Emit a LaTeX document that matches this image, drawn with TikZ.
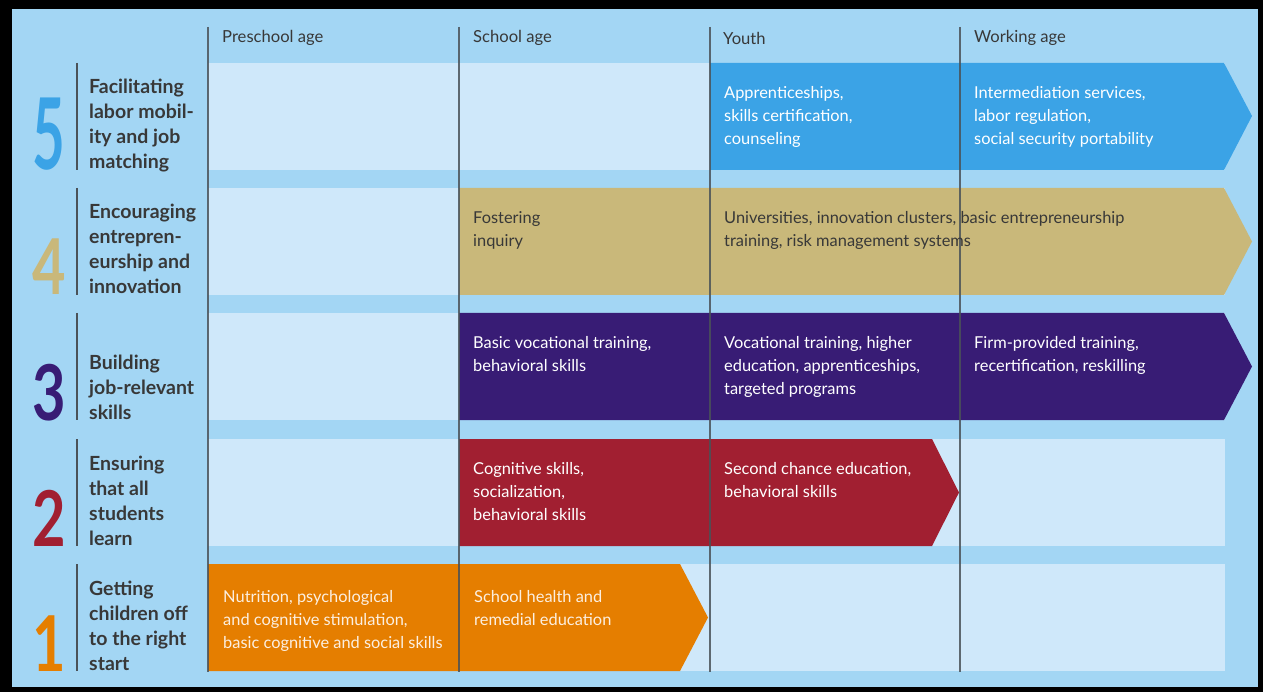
\documentclass[tikz,border=0pt]{standalone}
\usepackage{fontspec}
\setmainfont{Lato}
\usetikzlibrary{positioning}

\definecolor{bgblue}{HTML}{A3D6F4}
\definecolor{paleblue}{HTML}{CFE8FA}
\definecolor{lineg}{HTML}{4A5258}
\definecolor{labelg}{HTML}{383838}
\definecolor{c5}{HTML}{3BA3E6}
\definecolor{c4}{HTML}{C9B87A}
\definecolor{c3}{HTML}{381C75}
\definecolor{c2}{HTML}{A11F31}
\definecolor{c1}{HTML}{E57E00}

\begin{document}
\begin{tikzpicture}[x=1pt, y=-1pt,
    cell/.style={fill=paleblue},
    colline/.style={draw=lineg, line width=1.6pt, opacity=0.85},
    rowline/.style={draw=lineg, line width=1.4pt},
    header/.style={anchor=west, inner sep=0, text=labelg, font=\fontsize{16.6}{20}\selectfont},
    rowlabel/.style={anchor=base west, inner sep=0, align=left, text=labelg, font=\fontsize{19.5}{25}\selectfont\bfseries},
    rownum/.style={anchor=base, inner sep=0, font=\fontsize{77}{77}\selectfont\bfseries},
    boxtext/.style={anchor=north west, inner sep=0, align=left, text=white, font=\fontsize{16.4}{23}\selectfont}
]

% Frame and background
\fill[black] (0,0) rectangle (1263,692);
\fill[bgblue] (12,9) rectangle (1258,687);

% Empty cells
\foreach \t in {63,188,313,439,564}
  \fill[cell] (208,\t) rectangle (1225,\t+107);

% Arrows
\fill[c5] (710,63) -- (1224,63) -- (1252,116) -- (1224,170) -- (710,170) -- cycle;
\fill[c4] (459,188) -- (1224,188) -- (1252,241.5) -- (1224,295) -- (459,295) -- cycle;
\fill[c3] (459,313) -- (1224,313) -- (1252,366.5) -- (1224,420) -- (459,420) -- cycle;
\fill[c2] (459,439) -- (932,439) -- (959,492.5) -- (932,546) -- (459,546) -- cycle;
\fill[c1] (208,564) -- (680,564) -- (708,617.5) -- (680,671) -- (208,671) -- cycle;

% Column lines
\foreach \x in {208,459,710,960}
  \draw[colline] (\x,27) -- (\x,672);

% Headers
\node[header] (hpre) at (222,38) {Preschool age};
\node[header] (hschool) at (473,38) {School age};
\node[header] (hyouth) at (723,38) {Youth};
\node[header] (hwork) at (974,38) {Working age};

% Row labels
\foreach \t in {63,188,313,439,564}
  \draw[rowline] (77,\t) -- (77,\t+107);

\node[rownum, text=c5] (num5) at (49,170) {\scalebox{0.57}[1]{\fontsize{99}{99}\selectfont 5}};
\node[rownum, text=c4] (num4) at (49,295) {\scalebox{0.75}[1]{4}};
\node[rownum, text=c3] (num3) at (49,420) {\scalebox{0.75}[1]{3}};
\node[rownum, text=c2] (num2) at (49,546) {\scalebox{0.75}[1]{2}};
\node[rownum, text=c1] (num1) at (49,671) {\scalebox{0.75}[1]{1}};

\node[rowlabel] (lbl5) at (89,169) {Facilitating\\labor mobil-\\ity and job\\matching};
\node[rowlabel] (lbl4) at (89,294) {Encouraging\\entrepren-\\eurship and\\innovation};
\node[rowlabel] (lbl3) at (89,419) {Building\\job-relevant\\skills};
\node[rowlabel] (lbl2) at (89,545) {Ensuring\\that all\\students\\learn};
\node[rowlabel] (lbl1) at (89,670) {Getting\\children off\\to the right\\start};

% Cell texts
\node[boxtext] (t5youth) at (724,86) {Apprenticeships,\\skills certification,\\counseling};
\node[boxtext] (t5work) at (974,86) {Intermediation services,\\labor regulation,\\social security portability};
\node[boxtext, text=labelg] (t4school) at (473,211) {Fostering\\inquiry};
\node[boxtext, text=labelg] (t4youth) at (724,211) {Universities, innovation clusters, basic entrepreneurship\\training, risk management systems};
\node[boxtext] (t3school) at (473,336) {Basic vocational training,\\behavioral skills};
\node[boxtext] (t3youth) at (724,336) {Vocational training, higher\\education, apprenticeships,\\targeted programs};
\node[boxtext] (t3work) at (974,336) {Firm-provided training,\\recertification, reskilling};
\node[boxtext] (t2school) at (473,462) {Cognitive skills,\\socialization,\\behavioral skills};
\node[boxtext] (t2youth) at (724,462) {Second chance education,\\behavioral skills};
\node[boxtext, text=white!88!c1] (t1pre) at (223,590) {Nutrition, psychological\\and cognitive stimulation,\\basic cognitive and social skills};
\node[boxtext, text=white!88!c1] (t1school) at (474,590) {School health and\\remedial education};

\end{tikzpicture}
\end{document}
